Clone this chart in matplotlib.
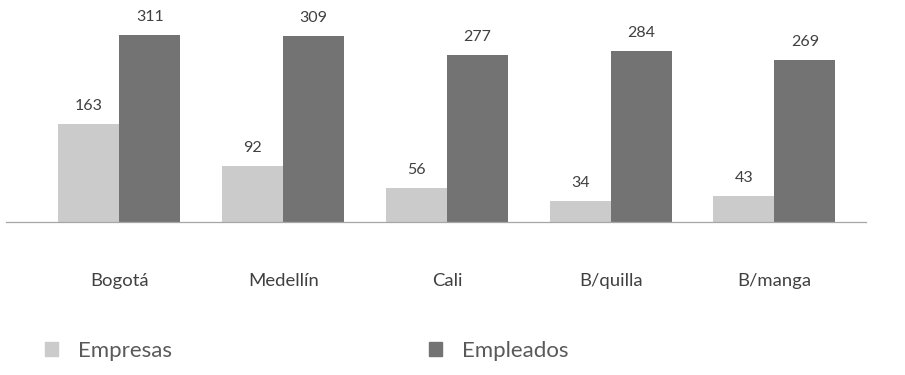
import matplotlib
matplotlib.use("Agg")
import matplotlib.pyplot as plt
import numpy as np
from matplotlib.patches import Patch

# Data
cities = ["Bogotá", "Medellín", "Cali", "B/quilla", "B/manga"]
empresas = [163, 92, 56, 34, 43]
empleados = [311, 309, 277, 284, 269]
series_names = ["Empresas", "Empleados"]

LIGHT = "#cbcbcb"
DARK = "#737373"
TEXT = "#404040"

plt.rcParams["font.family"] = ["Lato", "DejaVu Sans"]

W, H, DPI = 905, 375, 100
fig = plt.figure(figsize=(W / DPI, H / DPI), dpi=DPI)

# axes placed in pixel terms
left_px, right_px, base_px = 6, 866, 221.5
ax = fig.add_axes([left_px / W, (H - base_px) / H, (right_px - left_px) / W, base_px / H])

x = np.arange(len(cities))
bw = 0.3725
b1 = ax.bar(x - bw / 2, empresas, bw, color=LIGHT, linewidth=0)
b2 = ax.bar(x + bw / 2, empleados, bw, color=DARK, linewidth=0)

ax.set_xlim(-0.6931, 4.5588)
ax.set_ylim(0, 369.3)

for bars, vals in ((b1, empresas), (b2, empleados)):
    for r, v in zip(bars, vals):
        ax.annotate(str(v), (r.get_x() + r.get_width() / 2, v),
                    xytext=(0, 10), textcoords="offset points",
                    ha="center", va="baseline", fontsize=11.5, color=TEXT)

for s in ("top", "left", "right"):
    ax.spines[s].set_visible(False)
ax.spines["bottom"].set_color("#a6a6a6")
ax.spines["bottom"].set_linewidth(0.9)
ax.set_yticks([])
ax.set_xticks(x)
ax.set_xticklabels(cities, fontsize=13.3, color=TEXT)
ax.tick_params(axis="x", length=0, pad=37)

# legend entries, one per series
leg_kw = dict(frameon=False, loc="center left", borderpad=0, borderaxespad=0,
              handlelength=0.58, handleheight=0.58, handletextpad=0.9,
              fontsize=16, labelcolor="#595959")
leg1 = fig.legend([Patch(color=LIGHT)], [series_names[0]],
                  bbox_to_anchor=(45 / W, 24 / H), **leg_kw)
leg2 = fig.legend([Patch(color=DARK)], [series_names[1]],
                  bbox_to_anchor=(429 / W, 24 / H), **leg_kw)

fig.savefig("out.png", dpi=DPI)
